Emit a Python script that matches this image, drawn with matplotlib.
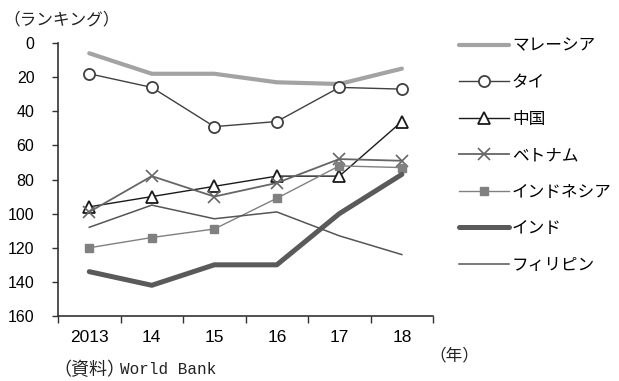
import matplotlib.pyplot as plt

plt.rcParams['font.family'] = ['Noto Sans CJK JP', 'DejaVu Sans']

years = ["2013", "14", "15", "16", "17", "18"]
malaysia = [6, 18, 18, 23, 24, 15]
thailand = [18, 26, 49, 46, 26, 27]
china = [96, 90, 84, 78, 78, 46]
vietnam = [99, 78, 90, 82, 68, 69]
indonesia = [120, 114, 109, 91, 72, 73]
india = [134, 142, 130, 130, 100, 77]
philippines = [108, 95, 103, 99, 113, 124]

fig = plt.figure(figsize=(6.19, 3.81), dpi=100)
ax = fig.add_axes([0.0937, 0.1706, 0.606, 0.7164])

x = [i + 0.5 for i in range(len(years))]

ax.plot(x, malaysia, color="#a3a3a3", lw=3.0, solid_capstyle="round", label="マレーシア")
ax.plot(x, thailand, color="#404040", lw=1.0, marker="o", ms=8, mfc="white",
        mec="#404040", mew=1.3, label="タイ")
ax.plot(x, china, color="#1a1a1a", lw=1.0, marker="^", ms=8, mfc="white",
        mec="#1a1a1a", mew=1.3, label="中国")
ax.plot(x, vietnam, color="#666666", lw=1.3, marker="x", ms=9, mew=1.2, label="ベトナム")
ax.plot(x, indonesia, color="#808080", lw=1.0, marker="s", ms=6, mfc="#808080",
        mec="#808080", label="インドネシア")
ax.plot(x, india, color="#5a5a5a", lw=3.6, solid_capstyle="round", label="インド")
ax.plot(x, philippines, color="#555555", lw=1.1, label="フィリピン")

ax.set_xlim(0, 6)
ax.set_ylim(160, 0)
ax.set_yticks(range(0, 161, 20))
ax.set_xticks(range(0, 7))
ax.set_xticklabels([])
ax.set_xticks(x, minor=True)
ax.set_xticklabels(years, minor=True)
ax.tick_params(axis="x", which="major", direction="out", length=5, width=1, color="#333333")
ax.tick_params(axis="x", which="minor", length=0, pad=10, labelsize=12.5)
ax.tick_params(axis="y", direction="out", length=4, width=1, color="#333333",
               pad=13, labelsize=11.5)
for lab in ax.get_yticklabels() + ax.get_xticklabels(minor=True):
    lab.set_family(["Liberation Sans", "DejaVu Sans"])

for s in ["top", "right"]:
    ax.spines[s].set_visible(False)
for s in ["left", "bottom"]:
    ax.spines[s].set_color("#333333")
    ax.spines[s].set_linewidth(1.2)

ax.legend(loc="upper left", bbox_to_anchor=(1.028, 1.075), frameon=False,
          handlelength=3.0, handletextpad=0.2, labelspacing=1.17, fontsize=12)

fig.text(0.005, 0.948, "（ランキング）", fontsize=12, va="center", ha="left", color="#222222")
fig.text(0.693, 0.066, "（年）", fontsize=12, va="center", ha="left", color="#222222")
fig.text(0.086, 0.029, "（資料）", fontsize=13, va="center", ha="left", color="#222222")
fig.text(0.194, 0.029, "World Bank", fontsize=11.5, va="center", ha="left",
         color="#222222", family=["Liberation Mono", "DejaVu Sans Mono"])

fig.savefig("out.png", dpi=100)
